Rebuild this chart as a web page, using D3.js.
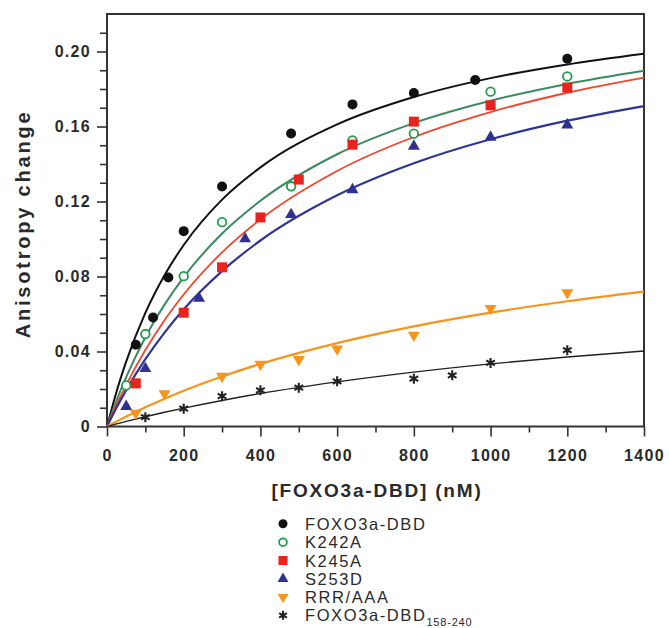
<!DOCTYPE html>
<html><head><meta charset="utf-8">
<script src="https://cdn.jsdelivr.net/npm/d3@7"></script>
<style>body{margin:0;background:#fff}svg{display:block}</style>
</head><body>
<script>
// ---- data ----
const seriesNames = ["FOXO3a-DBD","K242A","K245A","S253D","RRR/AAA","FOXO3a-DBD"];
const wtX = [75,120,160,200,300,480,640,800,960,1200];
const wtY = [0.0436,0.0581,0.0795,0.1042,0.128,0.1563,0.1718,0.1779,0.1848,0.1961];
const k242X = [50,100,200,300,480,640,800,1000,1200];
const k242Y = [0.0219,0.0493,0.0802,0.109,0.1281,0.1526,0.1562,0.1786,0.1867];
const k245X = [75,200,300,400,500,640,800,1000,1200];
const k245Y = [0.023,0.0607,0.0849,0.1115,0.1317,0.1503,0.1626,0.1713,0.1808];
const s253X = [50,100,240,360,480,640,800,1000,1200];
const s253Y = [0.0107,0.0309,0.0684,0.1001,0.113,0.1263,0.1495,0.1543,0.1608];
const rrrX = [75,150,300,400,500,600,800,1000,1200];
const rrrY = [0.0071,0.0175,0.0268,0.0332,0.0357,0.0414,0.0487,0.063,0.0714];
const shortX = [100,200,300,400,500,600,800,900,1000,1200];
const shortY = [0.005,0.0095,0.0162,0.0193,0.0207,0.0241,0.0255,0.0273,0.0339,0.0407];
// fitted curves
const fitX = [0,25,50,100,150,200,300,400,600,800,1000,1200,1400];
const fitWt   = [0,0.0187,0.0346,0.0606,0.0807,0.0968,0.1210,0.1382,0.1611,0.1757,0.1858,0.1931,0.1988];
const fitK242 = [0,0.0139,0.0263,0.0476,0.0650,0.0797,0.1029,0.1204,0.1452,0.1618,0.1737,0.1827,0.1897];
const fitK245 = [0,0.0116,0.0222,0.0408,0.0567,0.0704,0.0929,0.1105,0.1363,0.1544,0.1677,0.1780,0.1861];
const fitS253 = [0,0.0101,0.0194,0.0359,0.0501,0.0625,0.0829,0.0992,0.1233,0.1404,0.1532,0.1631,0.1709];
const fitRRR  = [0,0.0027,0.0053,0.0103,0.0148,0.0191,0.0267,0.0334,0.0445,0.0534,0.0607,0.0668,0.0719];
const fitShort= [0,0.0014,0.0027,0.0052,0.0076,0.0098,0.0139,0.0176,0.0238,0.0290,0.0334,0.0371,0.0403];
const xMajor = [0,200,400,600,800,1000,1200,1400];
const xMinor = [100,300,500,700,900,1100,1300];
const yMajor = [0,0.04,0.08,0.12,0.16,0.20];
const yMinor = [0.01,0.02,0.03,0.05,0.06,0.07,0.09,0.10,0.11,0.13,0.14,0.15,0.17,0.18,0.19,0.21];

const W=669,H=628;
const svg=d3.select("body").append("svg").attr("width",W).attr("height",H);
const x=d3.scaleLinear([0,1400],[107,644]);
const y=d3.scaleLinear([0,0.22],[426.5,14]);
const FONT="'Liberation Sans', Arial, Helvetica, sans-serif";

const styles=[
 {name:seriesNames[0],xs:wtX,ys:wtY,fit:fitWt,line:"#111",lw:2,sym:"circle",fill:"#111",stroke:"none"},
 {name:seriesNames[1],xs:k242X,ys:k242Y,fit:fitK242,line:"#3d8a5f",lw:2,sym:"circle",fill:"#fff",stroke:"#1e9c48"},
 {name:seriesNames[2],xs:k245X,ys:k245Y,fit:fitK245,line:"#f0462e",lw:1.8,sym:"square",fill:"#e8231d",stroke:"none"},
 {name:seriesNames[3],xs:s253X,ys:s253Y,fit:fitS253,line:"#2f3596",lw:2.2,sym:"tri",fill:"#2e3192",stroke:"none"},
 {name:seriesNames[4],xs:rrrX,ys:rrrY,fit:fitRRR,line:"#f7941d",lw:2.2,sym:"tridown",fill:"#f7941d",stroke:"none"},
 {name:seriesNames[5],xs:shortX,ys:shortY,fit:fitShort,line:"#222",lw:1.4,sym:"star",fill:"none",stroke:"#222"}
];

// axes
const gx=svg.append("g").attr("transform",`translate(0,${y(0)})`);
gx.call(d3.axisBottom(x).tickValues(xMajor).tickSize(10).tickPadding(13).tickFormat(d3.format("d")));
const gxm=svg.append("g").attr("transform",`translate(0,${y(0)})`);
gxm.call(d3.axisBottom(x).tickValues(xMinor).tickSize(6).tickFormat(""));
const gy=svg.append("g").attr("transform",`translate(${x(0)},0)`);
gy.call(d3.axisLeft(y).tickValues(yMajor).tickSize(10).tickPadding(6).tickFormat(d=>d===0?"0":d.toFixed(2)));
const gym=svg.append("g").attr("transform",`translate(${x(0)},0)`);
gym.call(d3.axisLeft(y).tickValues(yMinor).tickSize(7).tickFormat(""));
svg.selectAll(".domain").remove();
svg.selectAll(".tick line").attr("stroke","#333").attr("stroke-width",1.6);
svg.selectAll(".tick text").attr("fill","#2a2a2a").style("font-family",FONT)
  .style("font-size","16px").style("font-weight","bold").style("letter-spacing","1.3px");

// frame
svg.append("rect").attr("x",x(0)).attr("y",y(0.22)).attr("width",x(1400)-x(0)).attr("height",y(0)-y(0.22))
  .attr("fill","none").attr("stroke","#333").attr("stroke-width",2);

// curves
const line=d3.line().x((d,i)=>x(fitX[i])).y(d=>y(d)).curve(d3.curveMonotoneX);
styles.forEach(s=>{
  svg.append("path").attr("d",line(s.fit)).attr("fill","none").attr("stroke",s.line).attr("stroke-width",s.lw);
});

function starPath(r){
  let p="";
  [90,30,-30].forEach(a=>{const c=Math.cos(a*Math.PI/180)*r,s=Math.sin(a*Math.PI/180)*r;
    p+=`M${-c},${-s}L${c},${s}`;});
  return p;
}
function drawSym(g,type,cx,cy,s,scale){
  scale=scale||1;
  let el;
  if(type==="circle"){
    el=g.append("circle").attr("cx",cx).attr("cy",cy).attr("r",(s.fill==="#fff"?4.3:5)*scale)
      .attr("fill",s.fill).attr("stroke",s.stroke).attr("stroke-width",s.fill==="#fff"?1.8:0);
  }else if(type==="square"){
    const h=5*scale;
    el=g.append("rect").attr("x",cx-h).attr("y",cy-h).attr("width",2*h).attr("height",2*h).attr("fill",s.fill);
  }else if(type==="tri"||type==="tridown"){
    const sym=d3.symbol(d3.symbolTriangle,62*scale*scale);
    el=g.append("path").attr("d",sym()).attr("fill",s.fill)
      .attr("transform",`translate(${cx},${cy})${type==="tridown"?" rotate(180)":""}`);
  }else{
    el=g.append("path").attr("d",starPath(5*scale)).attr("fill","none").attr("stroke",s.stroke)
      .attr("stroke-width",2.1).attr("transform",`translate(${cx},${cy})`);
  }
  return el;
}
// markers
const gm=svg.append("g");
styles.forEach(s=>{
  s.xs.forEach((v,i)=>drawSym(gm,s.sym,x(v),y(s.ys[i]),s));
});

// axis titles
svg.append("text").attr("x",377).attr("y",497).attr("text-anchor","middle")
  .style("font-family",FONT).style("font-size","19px").style("font-weight","bold").style("letter-spacing","1.8px")
  .attr("fill","#2a2a2a").text("[FOXO3a-DBD] (nM)");
svg.append("text").attr("transform","translate(30,224) rotate(-90)").attr("text-anchor","middle")
  .style("font-family",FONT).style("font-size","20px").style("font-weight","bold").style("letter-spacing","2.8px")
  .attr("fill","#2a2a2a").text("Anisotropy change");

// legend
const lg=svg.append("g");
const rowY=[523.7,542.2,560.5,578.8,597,615.3];
styles.forEach((s,i)=>{
  const cy=rowY[i];
  drawSym(lg,s.sym,283,cy,s,0.9);
  const t=lg.append("text").attr("x",305).attr("y",cy+6).style("font-family",FONT)
    .style("font-size","16.5px").style("letter-spacing","1.6px").attr("fill","#2a2a2a").text(s.name);
  if(i===5){
    t.append("tspan").attr("dy",5).style("font-size","11px").style("letter-spacing","0.8px").text("158-240");
  }
});
</script>
</body></html>
